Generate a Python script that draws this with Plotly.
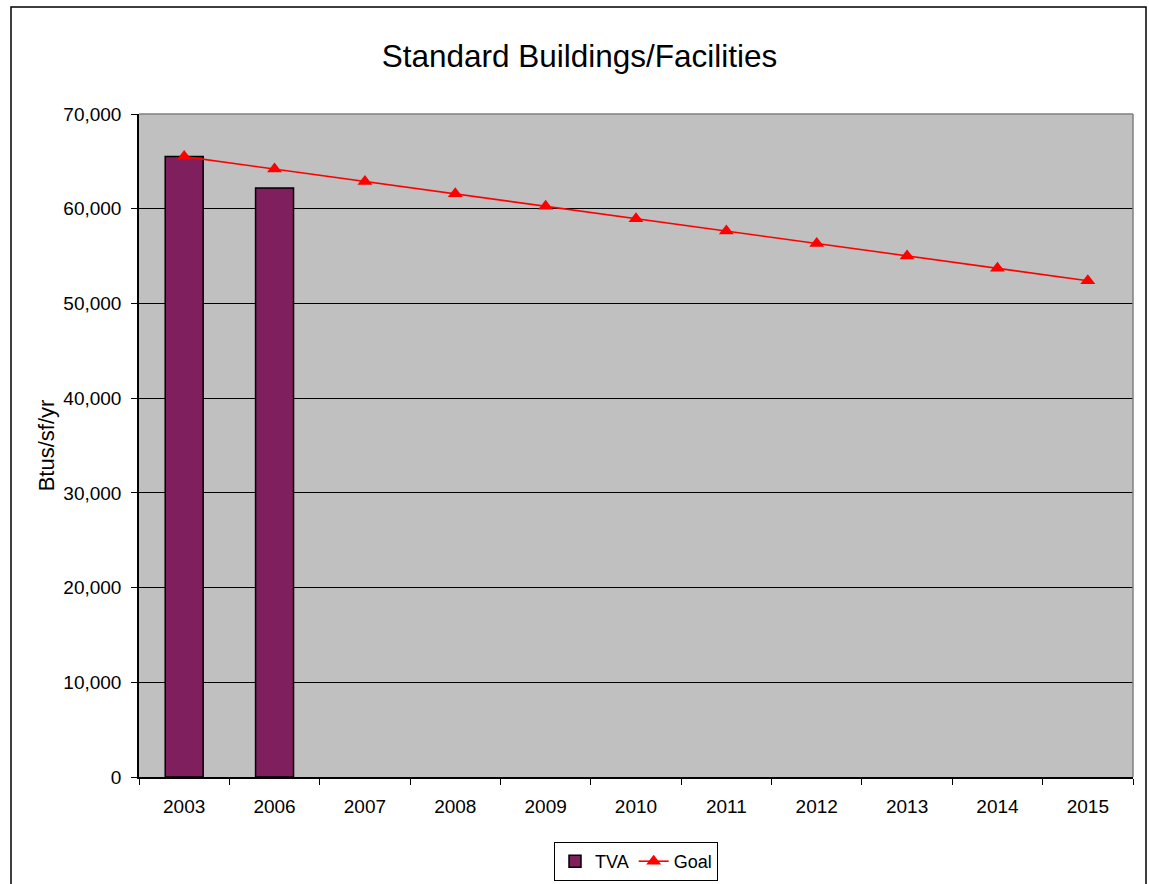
import plotly.graph_objects as go

years = ["2003", "2006", "2007", "2008", "2009", "2010", "2011", "2012", "2013", "2014", "2015"]
tva_years = ["2003", "2006"]
tva_values = [65500, 62200]
goal_values = [65500, 64190, 62880, 61570, 60260, 58950, 57640, 56330, 55020, 53710, 52400]
y_ticks = [0, 10000, 20000, 30000, 40000, 50000, 60000, 70000]

FONT = "Liberation Sans, Arial, sans-serif"

fig = go.Figure()
fig.add_trace(go.Bar(
    x=tva_years, y=tva_values, name="TVA",
    marker=dict(color="#801F5E", line=dict(color="#000000", width=1.5)),
    width=0.42,
))
fig.add_trace(go.Scatter(
    x=years, y=goal_values, name="Goal", mode="lines+markers",
    line=dict(color="#FF0000", width=1.6),
    marker=dict(symbol="triangle-up", size=13, color="#FF0000"),
))

fig.update_layout(
    width=1149, height=884,
    margin=dict(l=139, r=16, t=114, b=107, autoexpand=False),
    paper_bgcolor="white",
    plot_bgcolor="#C0C0C0",
    font=dict(family=FONT, size=19, color="black"),
    title=dict(text="Standard Buildings/Facilities", x=579.5 / 1149, xref="container",
               xanchor="center", y=1 - 56 / 884, yref="container", yanchor="middle",
               font=dict(size=31.5, family=FONT, color="black")),
    showlegend=True,
    legend=dict(orientation="h", x=0.5, xanchor="center", xref="paper",
                y=1 - 842 / 884, yanchor="top", yref="container",
                bordercolor="black", borderwidth=1, bgcolor="white",
                font=dict(size=18, family=FONT), traceorder="normal"),
)
fig.update_xaxes(
    type="category", categoryorder="array", categoryarray=years,
    range=[-0.5, len(years) - 0.5],
    showline=True, linecolor="#000000", linewidth=1.5, mirror=False,
    ticks="outside", ticklen=6, tickcolor="#000000", tickson="boundaries",
    showgrid=False, ticklabelstandoff=11,
    tickfont=dict(size=19, family=FONT),
)
fig.update_yaxes(
    range=[0, 70000], tickvals=y_ticks, tickformat=",d",
    showline=True, linecolor="#000000", linewidth=1.5,
    ticks="outside", ticklen=6, tickcolor="#000000",
    showgrid=True, gridcolor="#000000", gridwidth=1,
    zeroline=False, ticklabelstandoff=6,
    title=dict(text="Btus/sf/yr", standoff=3, font=dict(size=22, family=FONT)),
    tickfont=dict(size=19, family=FONT),
)

# plot-area gray border (top/right) and outer chart frame
fig.add_shape(type="line", xref="paper", yref="paper", x0=0, x1=1, y0=1, y1=1,
              line=dict(color="#808080", width=1.5))
fig.add_shape(type="line", xref="paper", yref="paper", x0=1, x1=1, y0=0, y1=1,
              line=dict(color="#808080", width=1.5))
fig.add_shape(type="rect", xref="paper", yref="paper",
              x0=(11 - 139) / 994, x1=(1146 - 139) / 994,
              y0=(777 - 895) / 663, y1=(777 - 7) / 663,
              line=dict(color="#000000", width=1.5), fillcolor="rgba(0,0,0,0)", layer="below")

fig.write_html("out.html", config={"displayModeBar": False},
               post_script="document.body.style.margin='0';document.body.style.overflow='hidden';")
